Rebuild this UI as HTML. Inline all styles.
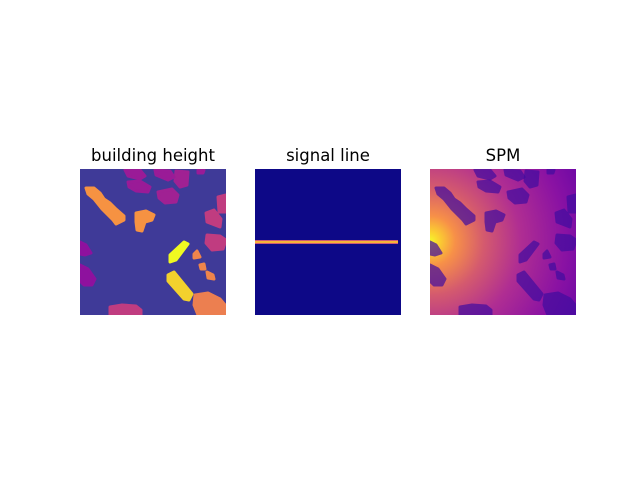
<!DOCTYPE html>
<html><head><meta charset="utf-8"><style>
body{margin:0;background:#fff;}
svg text{font-family:"DejaVu Sans","Liberation Sans",sans-serif;font-size:16.5px;}
</style></head><body>
<svg id="fig" width="640" height="480" xmlns="http://www.w3.org/2000/svg">
<defs>
<radialGradient id="spmGrad" gradientUnits="userSpaceOnUse" cx="0" cy="72" r="180">
<stop offset="0" stop-color="#f4f82a"/>
<stop offset="0.05" stop-color="#fbd030"/>
<stop offset="0.14" stop-color="#f79048"/>
<stop offset="0.3" stop-color="#d45a6e"/>
<stop offset="0.5" stop-color="#b02e92"/>
<stop offset="0.75" stop-color="#8a12a3"/>
<stop offset="1" stop-color="#6004a6"/>
</radialGradient>
<linearGradient id="lineGrad" x1="0" y1="0" x2="0" y2="1">
<stop offset="0" stop-color="#b0309a"/>
<stop offset="0.3" stop-color="#f89540"/>
<stop offset="0.5" stop-color="#f6e62c"/>
<stop offset="0.7" stop-color="#f89540"/>
<stop offset="1" stop-color="#b0309a"/>
</linearGradient>
</defs>
<text x="153" y="161" text-anchor="middle">building height</text>
<text x="328" y="161" text-anchor="middle">signal line</text>
<text x="503" y="161" text-anchor="middle">SPM</text>
<clipPath id="clip"><rect width="146" height="146"/></clipPath>
<g id="p1" transform="translate(80,169)" clip-path="url(#clip)">
<rect width="146" height="146" fill="#3f3a98"/>
</g>
<g id="p2" transform="translate(255,169)">
<rect width="146" height="146" fill="#0d0887"/>
</g>
<g id="p3" transform="translate(430,169)" clip-path="url(#clip)">
<rect width="146" height="146" fill="url(#spmGrad)"/>
</g>
</svg>
<script>
// map extent in cells
const mapSize = 146;
// signal line row (map units) and extent
const signalRow = [73];
const signalStart = [0], signalEnd = [143];
// building heights (normalized) and footprints (map units)
const heights = [0.74,0.74,1.0,0.9,0.7,0.7,0.7,0.34,0.34,0.36,0.36,0.34,0.34,0.46,0.46,0.46,0.68,0.46,0.3,0.3];
const footprints = [
 [[6,19],[14,19],[20,24],[24,30],[30,34],[36,40],[44,47],[44,51],[36,55],[33,51],[22,40],[14,30],[8,25]],
 [[56,44],[66,42],[74,46],[72,51],[65,53],[62,62],[57,61],[56,53]],
 [[90,86],[104,73],[108,75],[96,91],[90,93]],
 [[88,106],[94,103],[112,125],[109,131],[104,130],[88,112]],
 [[114,85],[117,82],[120,88],[114,89]],
 [[120,96],[124,95],[125,100],[121,100]],
 [[127,103],[133,106],[134,110],[128,109]],
 [[45,1],[60,1],[65,7],[60,10],[48,7]],
 [[48,13],[60,12],[70,18],[68,23],[56,22],[49,18]],
 [[78,23],[92,20],[98,26],[96,33],[85,34],[79,29]],
 [[96,2],[108,3],[107,16],[100,18],[95,12]],
 [[75,1],[90,2],[94,8],[88,11],[76,6]],
 [[118,1],[124,1],[123,4],[118,4]],
 [[138,28],[146,26],[146,43],[139,43]],
 [[126,44],[134,41],[141,50],[140,58],[127,53]],
 [[127,66],[140,67],[146,71],[143,80],[132,81],[126,74]],
 [[115,126],[128,124],[140,130],[146,137],[146,146],[118,146],[114,136]],
 [[30,138],[42,136],[56,137],[61,141],[61,146],[30,146]],
 [[0,73],[6,76],[11,84],[5,86],[0,85]],
 [[0,96],[8,100],[15,110],[12,116],[4,116],[0,112]]
];
const plasma = [[0,[13,8,135]],[0.25,[126,3,168]],[0.5,[204,71,120]],[0.75,[248,149,64]],[1,[240,249,33]]];
function cmap(v){
 for(let i=1;i<plasma.length;i++){
  if(v<=plasma[i][0]){const a=plasma[i-1],b=plasma[i],t=(v-a[0])/(b[0]-a[0]);
   return 'rgb('+a[1].map((c,k)=>Math.round(c+(b[1][k]-c)*t)).join(',')+')';}
 }
 return 'rgb(240,249,33)';
}
const W=146;
function sx(v){return v/mapSize*W;}
const NS='http://www.w3.org/2000/svg';
const p1=document.getElementById('p1'), p2=document.getElementById('p2'), p3=document.getElementById('p3');
footprints.forEach((f,i)=>{
 const pts=f.map(p=>sx(p[0])+','+sx(p[1])).join(' ');
 const col=cmap(heights[i]);
 const a=document.createElementNS(NS,'polygon');
 a.setAttribute('points',pts);
 a.setAttribute('fill',col);
 a.setAttribute('stroke',col);
 a.setAttribute('stroke-width','3');
 a.setAttribute('stroke-linejoin','round');
 
 
 p1.appendChild(a);
 const b=document.createElementNS(NS,'polygon');
 b.setAttribute('points',pts);
 b.setAttribute('fill','#400ca0');
 b.setAttribute('stroke','#400ca0');
 b.setAttribute('stroke-width','3');
 b.setAttribute('stroke-linejoin','round');
 b.setAttribute('opacity','0.7');
 
 
 p3.appendChild(b);
});
signalRow.forEach((r,i)=>{
 const l=document.createElementNS(NS,'rect');
 l.setAttribute('x',sx(signalStart[i]));
 l.setAttribute('y',sx(r)-2);
 l.setAttribute('width',sx(signalEnd[i]-signalStart[i]));
 l.setAttribute('height',4);
 l.setAttribute('fill','url(#lineGrad)');
 
 
 p2.appendChild(l);
});
</script>
</body></html>
